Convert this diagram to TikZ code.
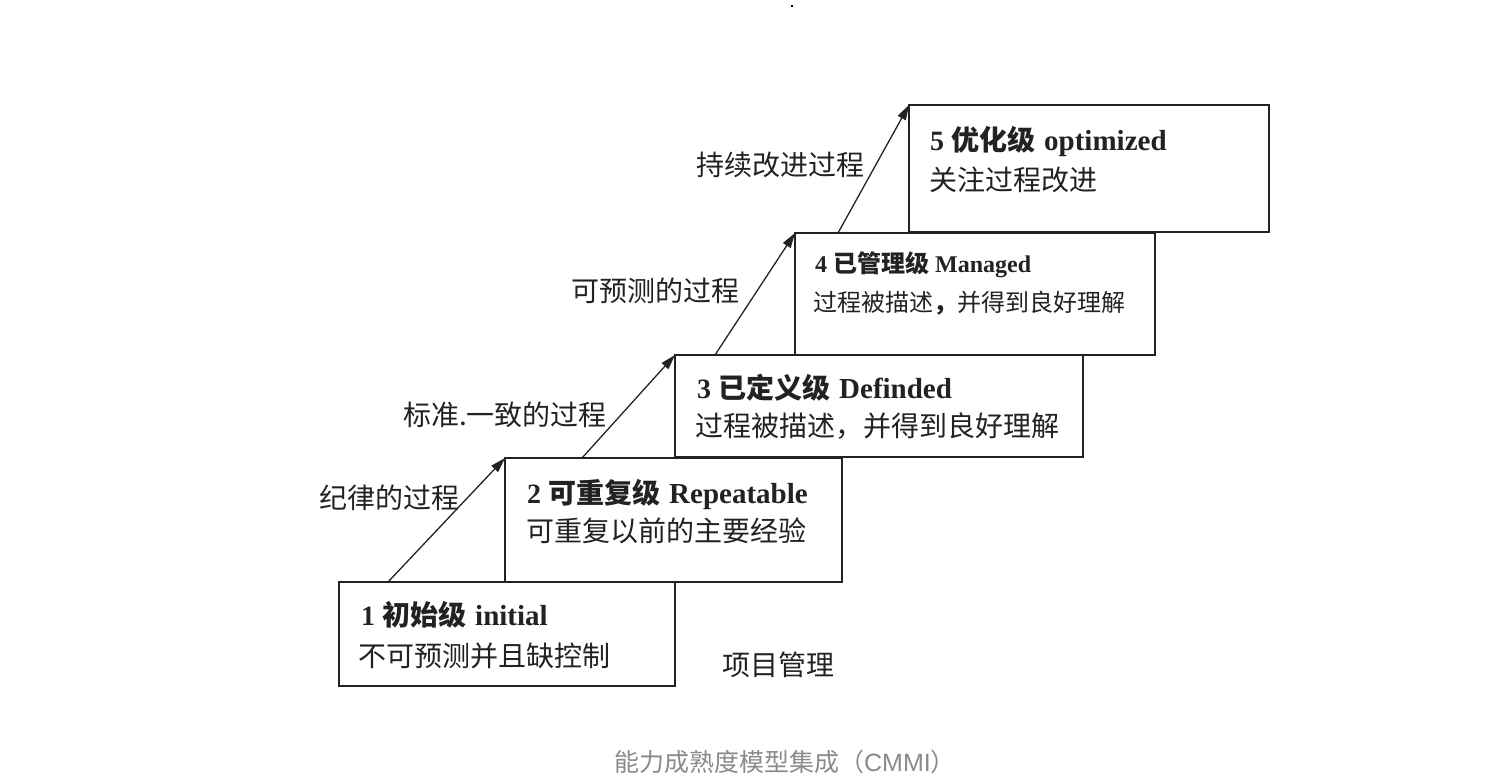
\documentclass[tikz,border=0pt]{standalone}
\usepackage{fontspec}
\setmainfont{Liberation Serif}
\setsansfont{Liberation Sans}
\newfontfamily\cjk{Noto Sans CJK SC}
\usetikzlibrary{arrows.meta}
\definecolor{ink}{HTML}{222222}
\definecolor{captiongray}{HTML}{8A8A8A}
\begin{document}
\begin{tikzpicture}[x=1pt,y=-1pt,
  box/.style={draw=ink, line width=1.6pt, fill=white, outer sep=0pt, inner sep=0pt, anchor=north west},
  txt/.style={inner sep=0pt, anchor=base west, text=ink, font=\fontsize{28}{30}\selectfont},
  smalltxt/.style={txt, font=\fontsize{24}{26}\selectfont},
  lbl/.style={inner sep=0pt, text=ink, font=\cjk\fontsize{28}{30}\selectfont},
  arr/.style={line width=1.3pt, draw=ink, -{Triangle[length=15pt,width=9pt]}}]
\useasboundingbox (0,0) rectangle (1488,780);
\fill[black] (791,5) rectangle (793,7);
% boxes
\node[box, minimum width=336pt, minimum height=104pt] (b1) at (339,582) {};
\node[box, minimum width=337pt, minimum height=124pt] (b2) at (505,458) {};
\node[box, minimum width=408pt, minimum height=102pt] (b3) at (675,355) {};
\node[box, minimum width=360pt, minimum height=122pt] (b4) at (795,233) {};
\node[box, minimum width=360pt, minimum height=127pt] (b5) at (909,105) {};
% arrow starts
\coordinate (s1) at ([xshift=49pt]b1.north west);
\coordinate (s2) at ([xshift=77pt]b2.north west);
\coordinate (s3) at ([xshift=40pt]b3.north west);
\coordinate (s4) at ([xshift=43pt]b4.north west);
\draw[arr] (s1) -- (b2.north west);
\draw[arr] (s2) -- (b3.north west);
\draw[arr] (s3) -- (b4.north west);
\draw[arr] (s4) -- (b5.north west);
% box texts
\node[txt] (t1) at (361,625) {\textbf{1 {\cjk 初始级}\hspace{2pt} {\fontsize{29}{30}\selectfont initial}}};
\node[txt] (d1) at (358,666) {\cjk 不可预测并且缺控制};
\node[txt] (t2) at (527,503) {\textbf{2 {\cjk 可重复级}\hspace{2pt} {\fontsize{29}{30}\selectfont Repeatable}}};
\node[txt] (d2) at (526,541) {\cjk 可重复以前的主要经验};
\node[txt] (t3) at (697,398) {\textbf{3 {\cjk 已定义级}\hspace{2pt} {\fontsize{29}{30}\selectfont Definded}}};
\node[txt] (d3) at (695,436) {\cjk 过程被描述，并得到良好理解};
\node[smalltxt] (t4) at (815,272) {\textbf{4 {\cjk 已管理级} Managed}};
\node[smalltxt] (d4) at (813,311) {\cjk 过程被描述\textbf{，}并得到良好理解};
\node[txt] (t5) at (930,150) {\textbf{5 {\cjk 优化级}\hspace{2pt} {\fontsize{29}{30}\selectfont optimized}}};
\node[txt] (d5) at (929,190) {\cjk 关注过程改进};
% labels
\node[lbl] (l1) at (389,498) {纪律的过程};
\node[lbl] (l2) at (505,415) {标准.一致的过程};
\node[lbl] (l3) at (655,291) {可预测的过程};
\node[lbl] (l4) at (780,165) {持续改进过程};
\node[lbl] (pm) at (778,665) {项目管理};
% caption
\node[inner sep=0pt, text=captiongray, font=\cjk\fontsize{25}{27}\selectfont] (cap) at (785,762) {能力成熟度模型集成（{\sffamily CMMI}）};
\end{tikzpicture}
\end{document}
